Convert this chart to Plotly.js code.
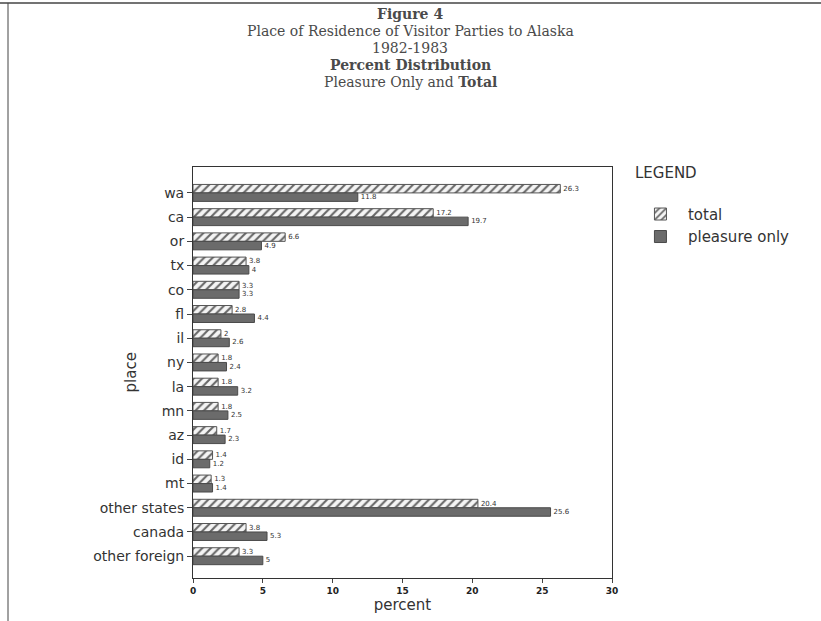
<!DOCTYPE html>
<html><head><meta charset="utf-8">
<script src="https://cdn.plot.ly/plotly-3.0.1.min.js"></script>
<style>body{margin:0;background:#fff}#c{width:821px;height:621px}</style>
</head><body><div id="c"></div>
<script>
const places = ["wa","ca","or","tx","co","fl","il","ny","la","mn","az","id","mt","other states","canada","other foreign"];
const placeLabels = ["wa","ca","or","tx","co","fl","il","ny","la","mn","az","id","mt","other states","canada","other foreign"];
const totalPct = [26.3,17.2,6.6,3.8,3.3,2.8,2,1.8,1.8,1.8,1.7,1.4,1.3,20.4,3.8,3.3];
const pleasurePct = [11.8,19.7,4.9,4.0,3.3,4.4,2.6,2.4,3.2,2.5,2.3,1.2,1.4,25.6,5.3,5];
const xTicks = [0,5,10,15,20,25,30];
const titleLines = ["<b>Figure 4</b>","Place of Residence of Visitor Parties to Alaska","1982-1983","<b>Percent Distribution</b>","Pleasure Only and <b>Total</b>"];

const sans = "DejaVu Sans, sans-serif";
const traces = [
  {type:"bar", orientation:"h", name:"total", legendgroup:"a", y:places, x:totalPct,
   text:totalPct.map(String), textposition:"outside", cliponaxis:false,
   textfont:{size:7, color:"#333", family:sans},
   marker:{color:"#f2f2f2", line:{color:"#555", width:1},
     pattern:{shape:"/", fgcolor:"#666", bgcolor:"#f4f4f4", size:6, solidity:0.35}}},
  {type:"bar", orientation:"h", name:"pleasure only", legendgroup:"b", y:places, x:pleasurePct,
   text:pleasurePct.map(String), textposition:"outside", cliponaxis:false,
   textfont:{size:7, color:"#333", family:sans},
   marker:{color:"#6b6b6b", line:{color:"#4a4a4a", width:1}}}
];
// plot area: x 193..612, y 167..578 (411 px)
const titleY = [14,31,48,65,82];
const annotations = titleLines.map((t,i)=>({
  text:t, xref:"paper", yref:"paper", x:0.518, y:1+(167-titleY[i])/411,
  xanchor:"center", yanchor:"middle", showarrow:false,
  font:{family:"DejaVu Serif, serif", size:14, color:"#4a4a4a"}
}));
annotations.push({text:"place", xref:"paper", yref:"paper", x:(130-193)/419, y:0.5,
  textangle:-90, xanchor:"center", yanchor:"middle", showarrow:false,
  font:{family:sans, size:15, color:"#333"}});
const layout = {
  width:821, height:621,
  margin:{l:193, r:209, t:167, b:43},
  paper_bgcolor:"#fff", plot_bgcolor:"#fff",
  barmode:"group", bargap:0.3, bargroupgap:0,
  xaxis:{range:[0,30], tickvals:xTicks, ticktext:xTicks.map(String), ticks:"outside", ticklen:4,
    showgrid:false, zeroline:false, showline:true, linecolor:"#333", linewidth:1, mirror:true,
    tickfont:{family:sans, size:9, color:"#222", weight:"bold"},
    title:{text:"percent", font:{family:sans, size:15, color:"#333"}, standoff:4}},
  yaxis:{range:[15.9,-1.07], tickvals:places, ticktext:placeLabels, ticks:"outside", ticklen:5,
    showgrid:false, showline:true, linecolor:"#333", linewidth:1, mirror:true,
    tickfont:{family:sans, size:14, color:"#333"}},
  legend:{x:1.05, xanchor:"left", y:1.02, yanchor:"top", traceorder:"normal",
    title:{text:"LEGEND<br> ", font:{family:sans, size:15, color:"#333"}},
    font:{family:sans, size:15, color:"#333"}, itemwidth:45, tracegroupgap:6, bgcolor:"rgba(0,0,0,0)"},
  showlegend:true,
  annotations:annotations,
  shapes:[
    {type:"line", xref:"paper", yref:"paper", x0:-0.47, x1:1.5, y0:1+(167-3)/411, y1:1+(167-3)/411, line:{color:"#444", width:1.5}},
    {type:"line", xref:"paper", yref:"paper", x0:(8-193)/419, x1:(8-193)/419, y0:-0.11, y1:1+(167-3)/411, line:{color:"#444", width:1}}
  ]
};
Plotly.newPlot("c", traces, layout, {displayModeBar:false, staticPlot:true});
</script></body></html>
